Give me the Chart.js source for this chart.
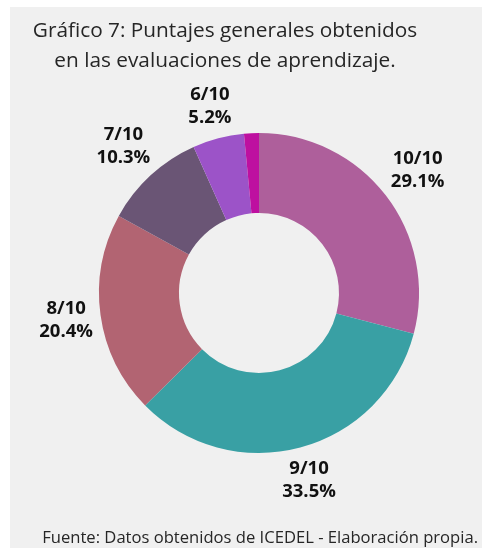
<!DOCTYPE html>
<html>
<head>
<meta charset="utf-8">
<script src="https://cdn.jsdelivr.net/npm/chart.js@4/dist/chart.umd.min.js"></script>
<style>
  html, body { margin: 0; padding: 0; background: #ffffff; }
  #wrap { position: absolute; left: 10px; top: 7px; width: 472px; height: 541px; background: #f0f0f0; }
  #title { position: absolute; left: 0; top: 14px; width: 450px; text-align: center;
           font-family: "Open Sans", sans-serif; font-size: 20.8px; line-height: 30px; color: #262626; }
  #foot { position: absolute; right: 4px; top: 525px; font-family: "Open Sans", sans-serif;
          font-size: 16.6px; color: #262626; white-space: nowrap; }
  #cv { position: absolute; left: 0; top: 0; }
</style>
</head>
<body>
<div id="wrap"></div>
<div style="position:absolute;left:0;top:0;width:482px;height:550px;">
  <canvas id="cv" width="482" height="550"></canvas>
</div>
<div id="title">Gráfico 7: Puntajes generales obtenidos<br>en las evaluaciones de aprendizaje.</div>
<div id="foot">Fuente: Datos obtenidos de ICEDEL - Elaboración propia.</div>
<script>
const categories = ["10/10", "9/10", "8/10", "7/10", "6/10", ""];
const percentages = [29.1, 33.5, 20.4, 10.3, 5.2, 1.5];
const pctLabels = ["29.1%", "33.5%", "20.4%", "10.3%", "5.2%", ""];
const sliceColors = ["#ae5f9b", "#39a0a4", "#b26472", "#6a5575", "#9c53c8", "#be10a0"];

const outsideLabels = {
  id: 'outsideLabels',
  afterDatasetsDraw(chart) {
    const ctx = chart.ctx;
    const meta = chart.getDatasetMeta(0);
    ctx.save();
    ctx.font = 'bold 18.5px "Open Sans", sans-serif';
    ctx.fillStyle = '#111111';
    ctx.textAlign = 'center';
    ctx.textBaseline = 'middle';
    const lineH = 23, gap = 5;
    meta.data.forEach((arc, i) => {
      if (!categories[i]) return;
      const p = arc.getProps(['x', 'y', 'startAngle', 'endAngle', 'outerRadius'], true);
      const mid = (p.startAngle + p.endAngle) / 2;
      const w = Math.max(ctx.measureText(categories[i]).width, ctx.measureText(pctLabels[i]).width);
      const h = lineH * 2;
      const c = Math.cos(mid), s = Math.sin(mid);
      const d = p.outerRadius + gap + Math.abs(c) * w / 2 + Math.abs(s) * h / 2;
      const cx = p.x + c * d, cy = p.y + s * d;
      ctx.fillText(categories[i], cx, cy - lineH / 2);
      ctx.fillText(pctLabels[i], cx, cy + lineH / 2);
    });
    ctx.restore();
  }
};

new Chart(document.getElementById('cv'), {
  type: 'doughnut',
  data: {
    labels: categories,
    datasets: [{
      data: percentages,
      backgroundColor: sliceColors,
      borderWidth: 0,
      hoverOffset: 0
    }]
  },
  options: {
    responsive: false,
    animation: false,
    cutout: '50%',
    layout: { padding: { left: 99, right: 63, top: 133, bottom: 97 } },
    plugins: { legend: { display: false }, tooltip: { enabled: false } }
  },
  plugins: [outsideLabels]
});
</script>
</body>
</html>
